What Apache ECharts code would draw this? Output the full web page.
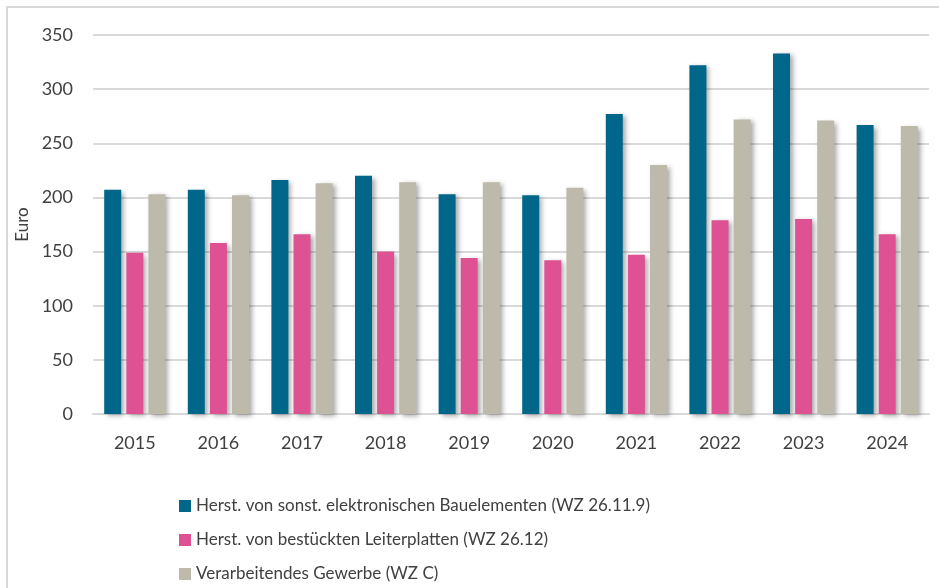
<!DOCTYPE html>
<html>
<head>
<meta charset="utf-8">
<script src="https://cdn.jsdelivr.net/npm/echarts@6/dist/echarts.min.js"></script>
<style>
    html, body { margin: 0; padding: 0; background: #fff; }
    #frame { position: absolute; left: 6px; top: 6px; width: 933px; height: 582px;
             border-top: 2px solid #d9d9d9; border-left: 2px solid #d9d9d9; }
    #main { position: absolute; left: 0; top: 0; width: 939px; height: 588px; }
</style>
</head>
<body>
<div id="frame"></div>
<div id="main"></div>
<script>
    var years = ['2015', '2016', '2017', '2018', '2019', '2020', '2021', '2022', '2023', '2024'];
    var bauelemente = [207, 207, 216, 220, 203, 202, 277, 322, 333, 267];
    var leiterplatten = [149, 158, 166, 150, 144, 142, 147, 179, 180, 166];
    var gewerbe = [203, 202, 213, 214, 214, 209, 230, 272, 271, 266];
    var names = [
        'Herst. von sonst. elektronischen Bauelementen (WZ 26.11.9)',
        'Herst. von bestückten Leiterplatten (WZ 26.12)',
        'Verarbeitendes Gewerbe (WZ C)'
    ];
    var colors = ['#00678a', '#de5294', '#bdbaab'];

    var chart = echarts.init(document.getElementById('main'));
    var font = 'Lato, sans-serif';

    // bars with a small drop shadow like the original
    function barSeries(name, data, color) {
        return {
            name: name,
            type: 'bar',
            data: data,
            barWidth: 17,
            barGap: '30%',
            itemStyle: {
                color: color,
                shadowColor: 'rgba(0,0,0,0.35)',
                shadowBlur: 5,
                shadowOffsetX: 3,
                shadowOffsetY: 2
            }
        };
    }

    var option = {
        animation: false,
        color: colors,
        textStyle: { fontFamily: font },
        grid: { left: 93, right: 10, top: 35, bottom: 174 },
        legend: {
            orient: 'vertical',
            left: 179,
            top: 496,
            padding: 0,
            itemWidth: 12,
            itemHeight: 12,
            itemGap: 14,
            icon: 'rect',
            textStyle: { fontSize: 17, lineHeight: 20, color: '#404040', fontFamily: font },
            data: names
        },
        xAxis: {
            type: 'category',
            data: years,
            axisLine: { lineStyle: { color: '#d9d9d9', width: 2 } },
            axisTick: { show: false },
            axisLabel: { fontSize: 18, color: '#404040', margin: 20 }
        },
        yAxis: {
            type: 'value',
            min: 0,
            max: 350,
            interval: 50,
            name: 'Euro',
            nameLocation: 'middle',
            nameGap: 60,
            nameTextStyle: { fontSize: 17, color: '#404040' },
            axisLabel: { fontSize: 18, color: '#404040', margin: 20 },
            splitLine: { lineStyle: { color: '#d9d9d9', width: 2 } }
        },
        series: [
            barSeries(names[0], bauelemente, colors[0]),
            barSeries(names[1], leiterplatten, colors[1]),
            barSeries(names[2], gewerbe, colors[2])
        ]
    };
    chart.setOption(option);
</script>
</body>
</html>
